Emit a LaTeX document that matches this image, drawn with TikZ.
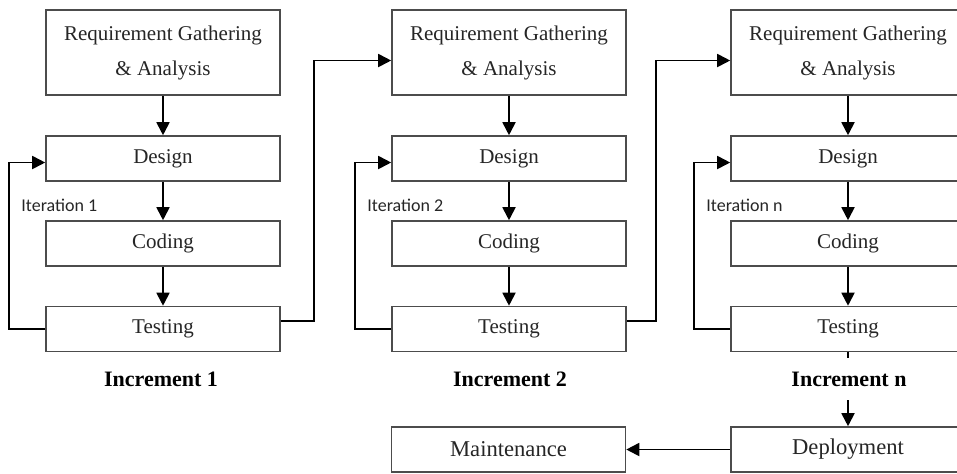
\documentclass[tikz,border=0pt]{standalone}
\usepackage{fontspec}
\setmainfont{Liberation Serif}
\newfontfamily\calib{Carlito}
\usetikzlibrary{arrows.meta}
\tikzset{
  caja/.style={draw=black!70, line width=0.8pt, fill=white, minimum width=117pt, minimum height=22.5pt,
    text=black!85, font=\fontsize{10.5}{17.5}\selectfont, align=center, inner sep=0pt},
  flecha/.style={line width=0.9pt, -{Triangle[length=6.5pt,width=6.5pt]}},
  iter/.style={font=\calib\fontsize{9}{11}\selectfont, text=black!85, anchor=west, inner sep=0pt},
  incr/.style={font=\bfseries\fontsize{11}{13}\selectfont, fill=white, inner xsep=2pt, inner ysep=7pt},
}
\begin{document}
\begin{tikzpicture}[x=0.5pt,y=-0.5pt]
\useasboundingbox (0,0) rectangle (957,473);
\foreach \c/\x/\n in {1/163/1, 2/509/2, 3/848/n}{
  \node[caja, minimum height=42.5pt] (req\c) at (\x,52.5) {Requirement Gathering\\ \& Analysis};
  \node[caja] (des\c) at (\x,158.5) {Design};
  \node[caja] (cod\c) at (\x,243.5) {Coding};
  \node[caja] (test\c) at (\x,329) {Testing};
  \draw[flecha] (req\c) -- (des\c);
  \draw[flecha] (des\c) -- (cod\c);
  \draw[flecha] (cod\c) -- (test\c);
  \draw[flecha] (test\c.west) -- ++(-36,0) |- ([yshift=-2pt]des\c.west); % iteracion
  \node[iter] (it\c) at (\x-142,205) {Iteration \n};
}
% paso al siguiente incremento
\draw[flecha] ([yshift=4pt]test1.east) -- ++(33,0) |- ([yshift=-4pt]req2.west);
\draw[flecha] ([yshift=4pt]test2.east) -- ++(29,0) |- ([yshift=-4pt]req3.west);
\node[caja, font=\fontsize{11.3}{13}\selectfont] (dep) at (848,449.5) {Deployment};
\node[caja, font=\fontsize{11.3}{13}\selectfont] (mant) at (508.5,449.5) {Maintenance};
\draw[flecha] (test3) -- (dep);
\draw[flecha] (dep) -- (mant);
\foreach \c/\x/\n in {1/161/1, 2/510/2, 3/849/n}
  \node[incr] (inc\c) at (\x,379) {Increment \n};
\end{tikzpicture}
\end{document}
